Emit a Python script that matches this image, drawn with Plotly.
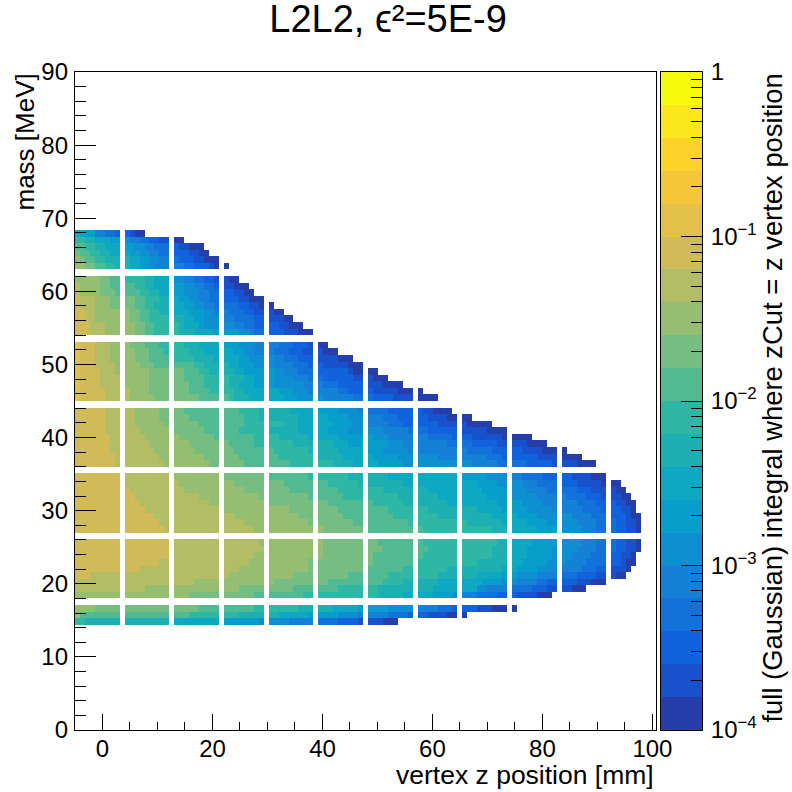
import plotly.graph_objects as go
import math

# ---- data: colour-level runs per mass bin: (level, last vertex-z bin of run)
row_75 = [(7,1),(6,3),(4,5),(3,7),(2,10),(1,11),(0,13)]
row_74 = [(9,1),(8,3),(7,6),(6,8),(5,10),(4,12),(3,14),(2,16),(1,18),(0,21)]
row_73 = [(10,1),(9,3),(8,5),(7,8),(6,11),(5,13),(4,15),(3,18),(2,20),(1,22),(0,25)]
row_72 = [(11,0),(10,2),(9,4),(8,6),(7,10),(6,12),(5,14),(4,16),(3,18),(2,22),(1,24),(0,26)]
row_71 = [(12,0),(11,1),(10,3),(9,5),(8,10),(7,12),(6,14),(5,16),(4,18),(3,20),(2,23),(1,25),(0,28)]
row_70 = [(12,1),(11,3),(10,5),(9,7),(8,10),(7,12),(6,13),(5,15),(4,21),(3,23),(2,26),(1,27),(0,30)]
row_68 = [(12,4),(11,6),(10,8),(9,13),(8,15),(7,18),(5,21),(4,23),(3,25),(2,27),(1,30),(0,32)]
row_67 = [(13,0),(12,4),(11,6),(10,11),(9,13),(8,15),(7,18),(6,21),(5,23),(4,25),(3,27),(2,28),(1,31),(0,34)]
row_66 = [(13,0),(12,4),(11,7),(10,12),(9,14),(8,16),(7,18),(6,21),(5,24),(4,26),(3,28),(2,31),(1,33),(0,35)]
row_65 = [(14,0),(13,3),(12,6),(11,11),(10,13),(9,16),(8,18),(7,20),(6,22),(5,24),(4,26),(3,28),(2,32),(1,34),(0,37)]
row_64 = [(14,0),(13,3),(12,6),(11,11),(10,13),(9,15),(8,18),(7,21),(6,23),(5,25),(4,27),(3,32),(2,34),(1,36),(0,39)]
row_63 = [(14,1),(13,3),(12,10),(11,12),(10,14),(9,16),(8,18),(7,22),(6,25),(5,27),(4,30),(3,33),(2,35),(1,39),(0,41)]
row_62 = [(14,1),(13,3),(12,10),(11,12),(10,14),(9,18),(8,21),(7,23),(6,25),(5,28),(4,31),(3,35),(2,37),(1,41),(0,43)]
row_61 = [(14,2),(13,5),(12,11),(11,13),(10,15),(9,20),(8,21),(7,24),(6,25),(5,31),(4,33),(3,35),(2,40),(1,42),(0,45)]
row_60 = [(14,2),(13,5),(12,11),(11,13),(10,15),(9,20),(8,23),(7,27),(6,32),(5,34),(4,35),(3,37),(2,41),(1,44),(0,47)]
row_58 = [(15,0),(14,3),(13,6),(12,10),(11,13),(10,16),(9,21),(8,24),(7,28),(6,32),(5,35),(4,40),(3,43),(2,46),(1,47),(0,50)]
row_57 = [(15,0),(14,3),(13,6),(12,11),(11,14),(10,17),(9,22),(8,25),(7,31),(6,33),(5,35),(4,39),(3,42),(2,45),(1,49),(0,52)]
row_56 = [(15,0),(14,3),(13,6),(12,11),(11,14),(10,18),(9,23),(8,27),(7,32),(6,34),(5,39),(4,41),(3,44),(2,47),(1,52),(0,55)]
row_55 = [(15,0),(14,3),(13,7),(12,12),(11,15),(10,23),(9,25),(8,30),(7,32),(6,35),(5,39),(4,43),(3,46),(2,49),(1,54),(0,57)]
row_54 = [(15,0),(14,4),(13,7),(12,14),(11,21),(10,24),(9,26),(8,31),(7,33),(6,39),(5,41),(4,44),(3,47),(2,54),(1,55),(0,60)]
row_53 = [(15,0),(14,4),(13,8),(12,14),(11,21),(10,25),(9,30),(8,33),(7,35),(6,39),(5,43),(4,46),(3,49),(2,55),(1,59),(0,62)]
row_52 = [(15,0),(14,4),(13,8),(12,14),(11,22),(10,25),(9,30),(8,32),(7,35),(6,39),(5,45),(4,49),(3,52),(2,57),(1,61),(0,65)]
row_51 = [(15,0),(14,5),(13,10),(12,14),(11,22),(10,26),(9,31),(8,33),(7,40),(6,43),(5,46),(4,52),(3,54),(2,59),(1,64),(0,69)]
row_50 = [(15,0),(14,5),(13,10),(12,15),(11,24),(10,30),(9,31),(8,34),(7,41),(6,44),(5,49),(4,55),(3,59),(2,63),(1,67),(0,72)]
row_48 = [(14,5),(13,11),(12,16),(11,21),(10,32),(9,36),(8,42),(7,47),(6,52),(5,56),(4,57),(3,62),(2,69),(1,71),(0,75)]
row_47 = [(14,5),(13,11),(12,16),(11,22),(10,33),(9,36),(8,44),(7,50),(6,54),(5,57),(4,61),(3,64),(2,70),(1,74),(0,79)]
row_46 = [(14,5),(13,11),(12,17),(11,24),(10,33),(9,41),(8,44),(7,51),(6,55),(5,57),(4,62),(3,65),(2,72),(1,78),(0,83)]
row_45 = [(14,5),(13,12),(12,18),(11,25),(10,32),(9,37),(8,44),(7,50),(6,54),(5,61),(4,66),(3,70),(2,76),(1,82),(0,86)]
row_44 = [(14,6),(13,13),(12,20),(11,27),(10,35),(9,40),(8,46),(7,52),(6,59),(5,62),(4,70),(3,75),(2,79),(1,85),(0,91)]
row_43 = [(14,6),(13,14),(12,22),(11,30),(10,35),(9,43),(8,51),(7,54),(6,62),(5,65),(4,74),(3,79),(2,84),(1,90),(0,94)]
row_42 = [(14,6),(13,15),(12,23),(11,31),(10,39),(9,46),(8,52),(7,57),(6,61),(5,66),(4,78),(3,83),(2,89),(1,93),(0,98)]
row_41 = [(14,7),(13,16),(12,25),(11,32),(10,40),(9,47),(8,53),(7,59),(6,64),(5,72),(4,82),(3,85),(2,92),(1,96),(0,101)]
row_40 = [(14,7),(13,17),(12,26),(11,33),(10,42),(9,51),(8,55),(7,60),(6,65),(5,79),(4,84),(3,90),(2,95),(1,100),(0,104)]
row_38 = [(14,8),(13,18),(12,28),(11,37),(10,46),(9,54),(8,62),(7,76),(6,82),(5,86),(4,89),(3,93),(2,99),(1,103),(0,106)]
row_37 = [(14,8),(13,20),(12,31),(11,41),(10,50),(9,56),(8,65),(7,80),(6,84),(5,89),(4,92),(3,96),(2,100),(1,105),(0,109)]
row_36 = [(14,10),(13,21),(12,33),(11,42),(10,52),(9,61),(8,70),(7,81),(6,86),(5,90),(4,94),(3,100),(2,103),(1,108),(0,110)]
row_35 = [(14,11),(13,24),(12,36),(11,46),(10,53),(9,64),(8,72),(7,82),(6,86),(5,92),(4,98),(3,102),(2,105),(1,109),(0,111)]
row_34 = [(14,12),(13,26),(12,37),(11,50),(10,59),(9,65),(8,74),(7,84),(6,89),(5,93),(4,100),(3,104),(2,108),(1,110),(0,112)]
row_33 = [(14,13),(13,28),(12,42),(11,52),(10,62),(9,70),(8,80),(7,85),(6,90),(5,95),(4,101),(3,105),(2,109),(1,111),(0,112)]
row_32 = [(14,15),(13,31),(12,44),(11,53),(10,63),(9,72),(8,83),(7,88),(6,92),(5,99),(4,103),(3,106),(2,110),(1,111),(0,113)]
row_31 = [(14,16),(13,33),(12,46),(11,55),(10,66),(9,78),(8,85),(7,90),(6,94),(5,100),(4,104),(3,108),(2,110),(1,112),(0,113)]
row_30 = [(14,17),(13,35),(12,49),(11,57),(10,69),(9,83),(8,86),(7,92),(6,96),(5,101),(4,104),(3,108),(2,110),(1,112),(0,113)]
row_28 = [(14,18),(13,36),(12,49),(11,60),(10,69),(9,84),(8,86),(7,91),(6,96),(5,101),(4,104),(3,108),(2,110),(1,112),(0,113)]
row_27 = [(14,18),(13,37),(12,49),(11,61),(10,70),(9,83),(8,86),(7,90),(6,95),(5,100),(4,104),(3,108),(2,110),(1,112),(0,113)]
row_26 = [(14,18),(13,35),(12,49),(11,59),(10,69),(9,83),(8,86),(7,90),(6,95),(5,99),(4,103),(3,106),(2,109),(1,111),(0,112)]
row_25 = [(14,16),(13,34),(12,46),(11,59),(10,67),(9,80),(8,86),(7,89),(6,94),(5,98),(4,102),(3,106),(2,109),(1,110),(0,112)]
row_24 = [(14,12),(13,32),(12,46),(11,57),(10,65),(9,74),(8,85),(7,88),(6,92),(5,96),(4,101),(3,104),(2,106),(1,110),(0,111)]
row_23 = [(14,2),(13,30),(12,43),(11,54),(10,62),(9,72),(8,80),(7,85),(6,88),(5,92),(4,96),(3,100),(2,104),(1,108),(0,110)]
row_22 = [(13,23),(12,39),(11,50),(10,61),(9,65),(8,72),(7,81),(6,85),(5,88),(4,92),(3,94),(2,100),(1,103),(0,106)]
row_21 = [(13,13),(12,32),(11,43),(10,52),(9,60),(8,71),(7,80),(6,80),(5,82),(4,86),(3,91),(2,94),(1,99),(0,102)]
row_20 = [(12,22),(11,35),(10,45),(9,60),(8,65),(7,71),(6,75),(5,76),(4,80),(3,84),(2,88),(1,92),(0,95)]
row_18 = [(12,3),(11,24),(10,35),(9,44),(8,51),(7,56),(6,62),(5,67),(4,72),(3,75),(2,80),(1,83),(0,88)]
row_17 = [(12,0),(10,22),(9,32),(8,40),(7,46),(6,52),(5,56),(4,62),(3,66),(2,70),(1,74),(0,78)]
row_16 = [(9,1),(8,18),(7,28),(6,36),(5,42),(4,47),(3,52),(2,56),(1,61),(0,64)]

empty_z_bins = [9, 19, 29, 38, 48, 58, 68, 77, 87, 97, 107]

x_ticks = [0, 20, 40, 60, 80, 100]
y_ticks = [0, 10, 20, 30, 40, 50, 60, 70, 80, 90]
z_ticks = [-4, -3, -2, -1, 0]
z_tick_labels = ["10<sup>−4</sup>", "10<sup>−3</sup>", "10<sup>−2</sup>", "10<sup>−1</sup>", "1"]

# ---- ROOT "bird" palette
bird_pos = [i / 8 for i in range(9)]
bird_r = [0.2082, 0.0592, 0.0780, 0.0232, 0.1802, 0.5301, 0.8186, 0.9956, 0.9764]
bird_g = [0.1664, 0.3599, 0.5041, 0.6419, 0.7178, 0.7492, 0.7328, 0.7862, 0.9832]
bird_b = [0.5293, 0.8684, 0.8385, 0.7914, 0.6425, 0.4662, 0.3499, 0.1968, 0.0539]
N_LEVELS = 20


def bird(p):
    k = min(int(p * 8), 7)
    t = (p - bird_pos[k]) * 8
    c = [a[k] + (a[k + 1] - a[k]) * t for a in (bird_r, bird_g, bird_b)]
    return "rgb(%d,%d,%d)" % tuple(round(v * 255) for v in c)


colorscale = []
for L in range(N_LEVELS):
    col = bird((L + 1) / N_LEVELS)
    colorscale += [[L / N_LEVELS, col], [(L + 1) / N_LEVELS, col]]

rows = {
    75: row_75, 74: row_74, 73: row_73, 72: row_72, 71: row_71, 70: row_70,
    68: row_68, 67: row_67, 66: row_66, 65: row_65, 64: row_64, 63: row_63, 62: row_62, 61: row_61, 60: row_60,
    58: row_58, 57: row_57, 56: row_56, 55: row_55, 54: row_54, 53: row_53, 52: row_52, 51: row_51, 50: row_50,
    48: row_48, 47: row_47, 46: row_46, 45: row_45, 44: row_44, 43: row_43, 42: row_42, 41: row_41, 40: row_40,
    38: row_38, 37: row_37, 36: row_36, 35: row_35, 34: row_34, 33: row_33, 32: row_32, 31: row_31, 30: row_30,
    28: row_28, 27: row_27, 26: row_26, 25: row_25, 24: row_24, 23: row_23, 22: row_22, 21: row_21, 20: row_20,
    18: row_18, 17: row_17, 16: row_16}

X0, DX, NX = -5.0, 0.903, 117
DY, NY = 0.9, 100
x_centers = [X0 + DX * (i + 0.5) for i in range(NX)]
y_centers = [DY * (j + 0.5) for j in range(NY)]


def level_value(L):
    return -4 + (L + 0.5) * 4 / N_LEVELS


z = [[None] * NX for _ in range(NY)]
for j, runs in rows.items():
    start = 0
    for L, last in runs:
        for i in range(start, last + 1):
            if i not in empty_z_bins:
                z[j][i] = level_value(L)
        start = last + 1

W = 792
PL, PR, PT, PB = 75, 656, 72, 730
BL, BR = 661, 702
FONT = "Liberation Sans"

fig = go.Figure()
fig.add_trace(go.Heatmap(x=x_centers, y=y_centers, z=z, zmin=-4, zmax=0, colorscale=colorscale,
                         showscale=False, hoverongaps=False, xaxis="x", yaxis="y"))
bar_levels = [level_value(L) for L in range(N_LEVELS)]
fig.add_trace(go.Heatmap(x=[0], y=bar_levels, z=[[v] for v in bar_levels], zmin=-4, zmax=0,
                         colorscale=colorscale, showscale=False, xaxis="x2", yaxis="y2"))

minor_log = [k + math.log10(m) for k in range(-4, 0) for m in range(2, 10)]

fig.update_layout(
    width=W, height=W, autosize=False, margin=dict(l=0, r=0, t=0, b=0, autoexpand=False),
    paper_bgcolor="white", plot_bgcolor="white", showlegend=False,
    font=dict(family=FONT, size=24, color="black"),
    xaxis=dict(domain=[PL / W, PR / W], range=[X0, X0 + DX * NX], tickmode="array", tickvals=x_ticks,
               ticks="inside", ticklen=16, tickwidth=1.3, tickcolor="black", showgrid=False, zeroline=False,
               showline=True, mirror=True, linecolor="black", linewidth=1.3, anchor="y",
               ticklabelstandoff=-3,
               minor=dict(tickmode="linear", dtick=5, tick0=0, ticks="inside", ticklen=8, tickwidth=1.3,
                          tickcolor="black", showgrid=False)),
    yaxis=dict(domain=[1 - PB / W, 1 - PT / W], range=[0, 90], tickmode="array", tickvals=y_ticks,
               ticks="inside", ticklen=21, tickwidth=1.3, tickcolor="black", showgrid=False, zeroline=False,
               showline=True, mirror=True, linecolor="black", linewidth=1.3, anchor="x",
               ticklabelstandoff=1,
               minor=dict(tickmode="linear", dtick=2, tick0=0, ticks="inside", ticklen=11, tickwidth=1.3,
                          tickcolor="black", showgrid=False)),
    xaxis2=dict(domain=[BL / W, BR / W], range=[-0.5, 0.5], showticklabels=False, ticks="",
                showgrid=False, zeroline=False, showline=True, mirror=True, linecolor="black",
                linewidth=1, anchor="y2"),
    yaxis2=dict(domain=[1 - PB / W, 1 - PT / W], range=[-4, 0], side="right", anchor="x2",
                tickmode="array", tickvals=z_ticks, ticktext=z_tick_labels,
                ticks="inside", ticklen=21, tickwidth=1.3, tickcolor="black", showgrid=False, zeroline=False,
                showline=True, mirror=True, linecolor="black", linewidth=1, ticklabelstandoff=3,
                minor=dict(tickmode="array", tickvals=minor_log, ticks="inside", ticklen=11, tickwidth=1.3,
                           tickcolor="black", showgrid=False)),
    title=dict(text="L2L2, ϵ²=5E-9", x=0.49, xanchor="center", xref="paper", y=0.977, yanchor="middle",
               font=dict(family=FONT, size=38)),
    annotations=[
        dict(text="vertex z position [mm]", xref="paper", yref="paper", x=PR / W, y=1 - 775 / W,
             xanchor="right", yanchor="middle", showarrow=False, font=dict(family=FONT, size=26.5)),
        dict(text="mass [MeV]", xref="paper", yref="paper", x=24 / W, y=1 - PT / W, xanchor="center",
             yanchor="top", textangle=-90, showarrow=False, font=dict(family=FONT, size=26)),
        dict(text="full (Gaussian) integral where zCut = z vertex position", xref="paper", yref="paper",
             x=772 / W, y=1 - PT / W, xanchor="center", yanchor="top", textangle=-90, showarrow=False,
             font=dict(family=FONT, size=27.4)),
    ],
)
fig.write_html("out.html", config={"displayModeBar": False}, post_script="document.body.style.margin='0';")
